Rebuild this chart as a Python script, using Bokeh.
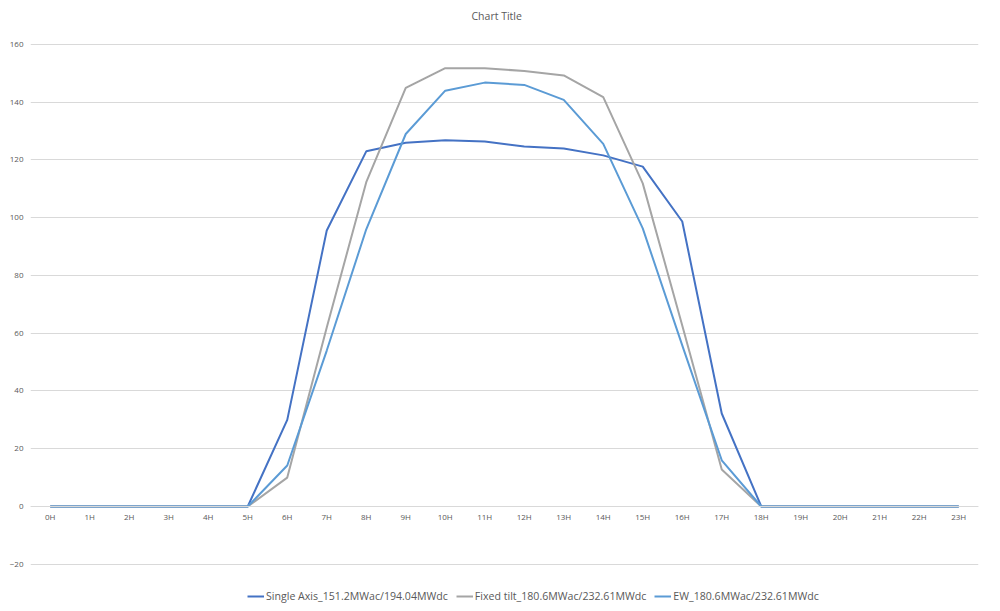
from bokeh.plotting import figure
from bokeh.models import FactorRange, Range1d, FixedTicker, Legend, LegendItem, Title
from bokeh.embed import file_html
from bokeh.resources import INLINE

hours = [f"{h}H" for h in range(24)]
single_axis = [0, 0, 0, 0, 0, 0, 30, 95.6, 123, 126, 126.8, 126.4, 124.7, 124, 121.6, 117.7, 98.7, 32.2, 0, 0, 0, 0, 0, 0]
fixed_tilt = [0, 0, 0, 0, 0, 0, 10, 62, 112.3, 145, 151.8, 151.8, 150.8, 149.3, 141.8, 111.9, 62.7, 12.8, 0, 0, 0, 0, 0, 0]
ew = [0, 0, 0, 0, 0, 0, 14.2, 54, 96, 129, 144, 146.8, 146, 140.8, 125.6, 96.3, 55.8, 16, 0, 0, 0, 0, 0, 0]
y_ticks = [-20, 0, 20, 40, 60, 80, 100, 120, 140, 160]
series_names = ["Single Axis_151.2MWac/194.04MWdc", "Fixed tilt_180.6MWac/232.61MWdc", "EW_180.6MWac/232.61MWdc"]
colors = ["#4472C4", "#A5A5A5", "#5B9BD5"]

FONT = "Open Sans"
TXT = "#595959"

p = figure(width=1000, height=611, x_range=FactorRange(*hours, range_padding=0),
           y_range=Range1d(-33.6, 165.54), output_backend="svg", toolbar_location=None,
           min_border=0, min_border_left=30, min_border_right=22, min_border_top=28,
           min_border_bottom=8)
p.outline_line_color = None
p.title = Title(text="Chart Title", align="left", vertical_align="bottom", offset=441, standoff=11,
                text_font=FONT, text_font_size="10.5px", text_color=TXT, text_font_style="normal")

renderers = []
for vals, c in zip([single_axis, fixed_tilt, ew], colors):
    r = p.line(hours, vals, line_color=c, line_width=2)
    renderers.append(r)

p.yaxis.ticker = FixedTicker(ticks=y_ticks)
p.yaxis.axis_line_color = None
p.yaxis.major_tick_line_color = None
p.yaxis.minor_tick_line_color = None
p.yaxis.major_tick_out = 0
p.yaxis.major_tick_in = 0
p.yaxis.major_label_text_font = FONT
p.yaxis.major_label_text_font_size = "8px"
p.yaxis.major_label_text_color = TXT
p.yaxis.major_label_standoff = 7

p.xaxis.fixed_location = 0
p.xaxis.axis_line_color = "#D9D9D9"
p.xaxis.major_tick_line_color = None
p.xaxis.minor_tick_line_color = None
p.xaxis.major_tick_out = 0
p.xaxis.major_tick_in = 0
p.xaxis.major_label_text_font = FONT
p.xaxis.major_label_text_font_size = "8px"
p.xaxis.major_label_text_color = TXT
p.xaxis.major_label_standoff = 5

p.xgrid.grid_line_color = None
p.ygrid.ticker = FixedTicker(ticks=y_ticks)
p.ygrid.grid_line_color = "#D9D9D9"

legend = Legend(items=[LegendItem(label=n, renderers=[r]) for n, r in zip(series_names, renderers)],
                orientation="horizontal", location=(217, 0), border_line_color=None,
                background_fill_alpha=0, label_text_font=FONT, label_text_font_size="10.6px",
                label_text_color=TXT, glyph_width=17, label_standoff=2, spacing=8,
                padding=0, margin=0, label_height=14, glyph_height=14)
p.add_layout(legend)

open("out.html", "w").write(file_html(p, INLINE))
